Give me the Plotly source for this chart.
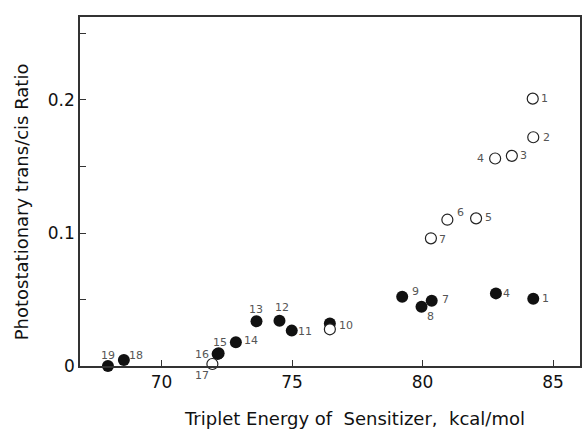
import plotly.graph_objects as go

# Open circles
open_labels = ["1", "2", "3", "4", "5", "6", "7", "10", "17"]
open_x = [84.22, 84.24, 83.42, 82.78, 82.05, 80.95, 80.32, 76.45, 71.95]
open_y = [0.201, 0.172, 0.158, 0.156, 0.111, 0.110, 0.096, 0.0276, 0.0015]

# Filled circles
filled_labels = ["1", "4", "7", "8", "9", "", "11", "12", "13", "14", "15", "16", "18", "19"]
filled_x = [84.24, 82.81, 80.35, 79.96, 79.22, 76.45, 74.99, 74.52, 73.64, 72.85, 72.19, 72.15, 68.56, 67.95]
filled_y = [0.0506, 0.0546, 0.049, 0.0446, 0.052, 0.032, 0.0266, 0.034, 0.0336, 0.0178, 0.0095, 0.009, 0.0045, 0.0]

x_ticks = [70, 75, 80, 85]
y_ticks = [0, 0.05, 0.1, 0.15, 0.2, 0.25]
y_ticktext = ["0", "", "0.1", "", "0.2", ""]

# label pixel offsets (style)
open_off = [(12, 0), (13, 0), (12, 0), (-15, 0), (12, 1), (13, 7), (12, -1), (16, 4), (-10, -11)]
filled_off = [(12, 0), (11, 0), (14, 1), (9, -10), (13, 5), (0, 0), (13, -1), (3, 13), (-1, 12),
              (15, 2), (1, 11), (-16, 0), (12, 5), (0, 11)]

FONT = "DejaVu Sans, Liberation Sans, Arial, sans-serif"

fig = go.Figure()
fig.add_trace(go.Scatter(x=filled_x, y=filled_y, mode="markers",
                         marker=dict(size=12, color="#111111", line=dict(width=0)),
                         cliponaxis=False, showlegend=False))
fig.add_trace(go.Scatter(x=open_x, y=open_y, mode="markers",
                         marker=dict(size=11, color="white", line=dict(width=1.2, color="#222222")),
                         cliponaxis=False, showlegend=False))

ann = []
for lab, x, y, (dx, dy) in zip(open_labels, open_x, open_y, open_off):
    ann.append(dict(x=x, y=y, text=lab, showarrow=False, xshift=dx, yshift=dy,
                    font=dict(size=11, color="#555555", family=FONT)))
for lab, x, y, (dx, dy) in zip(filled_labels, filled_x, filled_y, filled_off):
    if lab:
        ann.append(dict(x=x, y=y, text=lab, showarrow=False, xshift=dx, yshift=dy,
                        font=dict(size=11, color="#555555", family=FONT)))

L, R, T, B = 80, 1, 17, 64
W, H = 583, 430
pw, ph = W - L - R, H - T - B


def paper(px, py):
    return (px - L) / pw, ((H - py) - B) / ph


tx, ty = paper(356, 418)
ann.append(dict(x=tx, y=ty, xref="paper", yref="paper",
                text="Triplet Energy of  Sensitizer,  kcal/mol", showarrow=False,
                font=dict(size=18, color="#111111", family=FONT), xanchor="center", yanchor="middle"))
yx, yy = paper(21, 202)
ann.append(dict(x=yx, y=yy, xref="paper", yref="paper",
                text="Photostationary trans/cis Ratio", showarrow=False, textangle=-90,
                font=dict(size=18, color="#111111", family=FONT), xanchor="center", yanchor="middle"))

fig.update_layout(
    width=W, height=H,
    margin=dict(l=L, r=R, t=T, b=B),
    paper_bgcolor="white", plot_bgcolor="white",
    font=dict(family=FONT, color="#111111"),
    annotations=ann,
    xaxis=dict(range=[66.88, 86.03], tickvals=x_ticks, ticks="inside", ticklen=6,
               tickcolor="#333333", showgrid=False, zeroline=False, showline=True,
               linecolor="#333333", linewidth=1.5, mirror=True,
               tickfont=dict(size=17, color="#111111", family=FONT)),
    yaxis=dict(range=[0, 0.2624], tickvals=y_ticks, ticktext=y_ticktext, ticks="inside",
               ticklen=6, tickcolor="#333333", showgrid=False, zeroline=False, showline=True,
               linecolor="#333333", linewidth=1.5, mirror=True,
               tickfont=dict(size=17, color="#111111", family=FONT)),
)

fig.write_html("out.html")
